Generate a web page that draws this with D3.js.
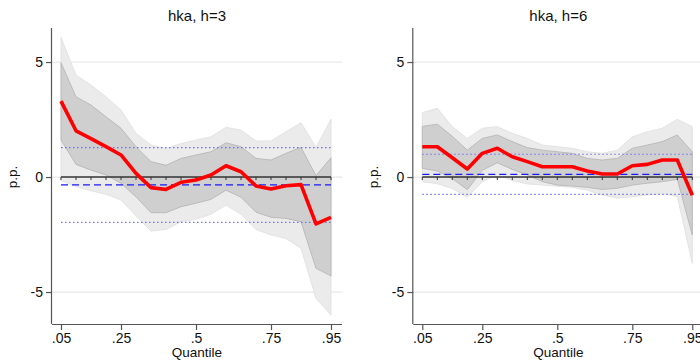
<!DOCTYPE html>
<html>
<head>
<meta charset="utf-8">
<script src="https://cdn.jsdelivr.net/npm/d3@7"></script>
<style>
  body { margin: 0; background: #fff; }
  text { font-family: "Liberation Sans", Arial, sans-serif; fill: #111; }
</style>
</head>
<body>
<svg id="chart"></svg>
<script>
// data
const quantiles = [0.05, 0.10, 0.15, 0.20, 0.25, 0.30, 0.35, 0.40, 0.45, 0.50,
                   0.55, 0.60, 0.65, 0.70, 0.75, 0.80, 0.85, 0.90, 0.95];
const xTicks = [0.05, 0.25, 0.5, 0.75, 0.95];
const xTickLabels = ['.05', '.25', '.5', '.75', '.95'];
const yTicks = [-5, 0, 5];

// h=3
const est3  = [3.30, 2.01, 1.67, 1.32, 0.96, 0.16, -0.46, -0.54, -0.23, -0.13, 0.09, 0.49, 0.23, -0.39, -0.52, -0.38, -0.33, -2.04, -1.75];
const hi68_3 = [4.97, 3.49, 3.13, 2.62, 2.12, 1.32, 0.67, 0.51, 0.81, 0.96, 1.10, 1.49, 1.32, 0.81, 0.74, 1.03, 1.29, 0.06, 0.84];
const lo68_3 = [1.61, 0.55, 0.30, 0.09, -0.27, -0.86, -1.55, -1.55, -1.29, -1.14, -0.97, -0.57, -0.88, -1.53, -1.75, -1.80, -1.94, -3.97, -4.30];
const hi90_3 = [6.07, 4.43, 4.00, 3.49, 2.91, 1.90, 1.39, 1.23, 1.46, 1.61, 1.75, 2.16, 2.04, 1.57, 1.57, 1.97, 2.36, 1.29, 2.51];
const lo90_3 = [-0.15, -0.42, -0.60, -0.75, -1.00, -1.68, -2.35, -2.28, -1.94, -1.84, -1.62, -1.22, -1.62, -2.28, -2.52, -2.67, -3.10, -5.28, -6.00];
const ols3 = [-1.97, -0.34, 1.28]; // lower, mean, upper

// h=6
const est6  = [1.32, 1.32, 0.84, 0.35, 1.03, 1.25, 0.88, 0.67, 0.45, 0.45, 0.45, 0.26, 0.13, 0.13, 0.49, 0.55, 0.74, 0.74, -0.79];
const hi68_6 = [2.20, 2.30, 1.77, 1.17, 1.68, 1.83, 1.54, 1.28, 1.17, 1.10, 1.03, 0.81, 0.74, 0.81, 1.25, 1.39, 1.54, 1.83, 1.10];
const lo68_6 = [0.38, 0.26, -0.07, -0.55, 0.29, 0.62, 0.33, 0.09, -0.20, -0.35, -0.39, -0.45, -0.54, -0.49, -0.35, -0.27, -0.20, -0.10, -2.52];
const hi90_6 = [2.80, 2.99, 2.19, 1.68, 2.12, 2.19, 1.90, 1.68, 1.39, 1.32, 1.25, 1.10, 1.03, 1.17, 1.75, 1.97, 2.12, 2.51, 2.19];
const lo90_6 = [-0.20, -0.29, -0.50, -0.88, -0.20, 0.10, -0.15, -0.30, -0.35, -0.40, -0.45, -0.57, -0.78, -0.92, -0.86, -0.78, -0.71, -0.85, -3.75];
const ols6 = [-0.75, 0.12, 0.99];

const w = 700;
const h = 363;
const plotW = 290;
const plotTop = 28;
const plotBottom = 324;

const svg = d3.select('#chart')
    .attr('width', w)
    .attr('height', h);

const y = d3.scaleLinear()
    .domain([-6.39, 6.48])
    .range([plotBottom, plotTop]);

function drawPanel(left, title, est, lo68, hi68, lo90, hi90, ols) {
    const x = d3.scaleLinear()
        .domain([0.05 - 9 / 300, 0.95 + 11 / 300])
        .range([left, left + plotW]);

    const g = svg.append('g');

    // gridlines
    g.selectAll('.grid')
        .data(yTicks)
        .enter()
        .append('line')
        .attr('x1', left).attr('x2', left + plotW)
        .attr('y1', d => y(d)).attr('y2', d => y(d))
        .style('stroke', '#e8e8e8')
        .style('stroke-width', 1.2);

    const band = (lo, hi) => d3.area()
        .x((d, i) => x(quantiles[i]))
        .y0((d, i) => y(lo[i]))
        .y1((d, i) => y(hi[i]));

    // 90% and 68% bands
    g.append('path')
        .attr('d', band(lo90, hi90)(quantiles))
        .style('fill', '#ebebeb')
        .style('stroke', '#dedede')
        .style('stroke-width', 0.8);
    g.append('path')
        .attr('d', band(lo68, hi68)(quantiles))
        .style('fill', '#cfcfcf')
        .style('stroke', '#b3b3b3')
        .style('stroke-width', 0.8);

    // zero line with small markers
    g.append('line')
        .attr('x1', x(0.05)).attr('x2', x(0.95))
        .attr('y1', y(0)).attr('y2', y(0))
        .style('stroke', '#333')
        .style('stroke-width', 1.5);
    g.selectAll('.zt')
        .data(quantiles)
        .enter()
        .append('line')
        .attr('x1', d => x(d)).attr('x2', d => x(d))
        .attr('y1', y(0)).attr('y2', y(0) + 3)
        .style('stroke', '#333')
        .style('stroke-width', 1);

    // OLS estimate and its interval
    g.selectAll('.ols')
        .data(ols)
        .enter()
        .append('line')
        .attr('x1', x(0.05)).attr('x2', x(0.95))
        .attr('y1', d => y(d)).attr('y2', d => y(d))
        .style('stroke', (d, i) => i === 1 ? '#1a1aff' : '#6f6fff')
        .style('stroke-width', (d, i) => i === 1 ? 1.3 : 1.2)
        .style('stroke-dasharray', (d, i) => i === 1 ? '7,4' : '1.5,2.5');

    // quantile estimates
    g.append('path')
        .datum(est)
        .attr('d', d3.line()
            .x((d, i) => x(quantiles[i]))
            .y(d => y(d)))
        .style('fill', 'none')
        .style('stroke', '#ff0000')
        .style('stroke-width', 3.6)
        .style('stroke-linejoin', 'round');

    // axes
    const xAxis = d3.axisBottom(x)
        .tickValues(xTicks)
        .tickSize(6)
        .tickPadding(3)
        .tickFormat((d, i) => xTickLabels[i]);
    const xg = g.append('g')
        .attr('transform', 'translate(0,' + plotBottom + ')')
        .call(xAxis);
    xg.select('.domain').attr('d', 'M' + left + ',0.5H' + (left + plotW));

    const yAxis = d3.axisLeft(y)
        .tickValues(yTicks)
        .tickSize(6)
        .tickPadding(3)
        .tickFormat(d => String(d)); // plain hyphen like the original
    const yg = g.append('g')
        .attr('transform', 'translate(' + left + ',0)')
        .call(yAxis);
    yg.select('.domain').attr('d', 'M-0.5,' + plotTop + 'V' + plotBottom);

    [xg, yg].forEach(a => {
        a.selectAll('.domain, .tick line').style('stroke', '#555').style('stroke-width', 1.2);
        a.selectAll('text').style('font-size', '14px').style('fill', '#111')
            .style('font-family', '"Liberation Sans", Arial, sans-serif');
    });

    // titles
    g.append('text')
        .attr('x', left + plotW / 2)
        .attr('y', 21)
        .attr('text-anchor', 'middle')
        .style('font-size', '15px')
        .text(title);
    g.append('text')
        .attr('x', left + plotW / 2)
        .attr('y', 357)
        .attr('text-anchor', 'middle')
        .style('font-size', '13.5px')
        .text('Quantile');
    g.append('text')
        .attr('transform', 'translate(' + (left - 35) + ',' + y(0) + ') rotate(-90)')
        .attr('text-anchor', 'middle')
        .style('font-size', '13.5px')
        .text('p.p.');
}

drawPanel(52, 'hka, h=3', est3, lo68_3, hi68_3, lo90_3, hi90_3, ols3);
drawPanel(413.3, 'hka, h=6', est6, lo68_6, hi68_6, lo90_6, hi90_6, ols6);
</script>
</body>
</html>
